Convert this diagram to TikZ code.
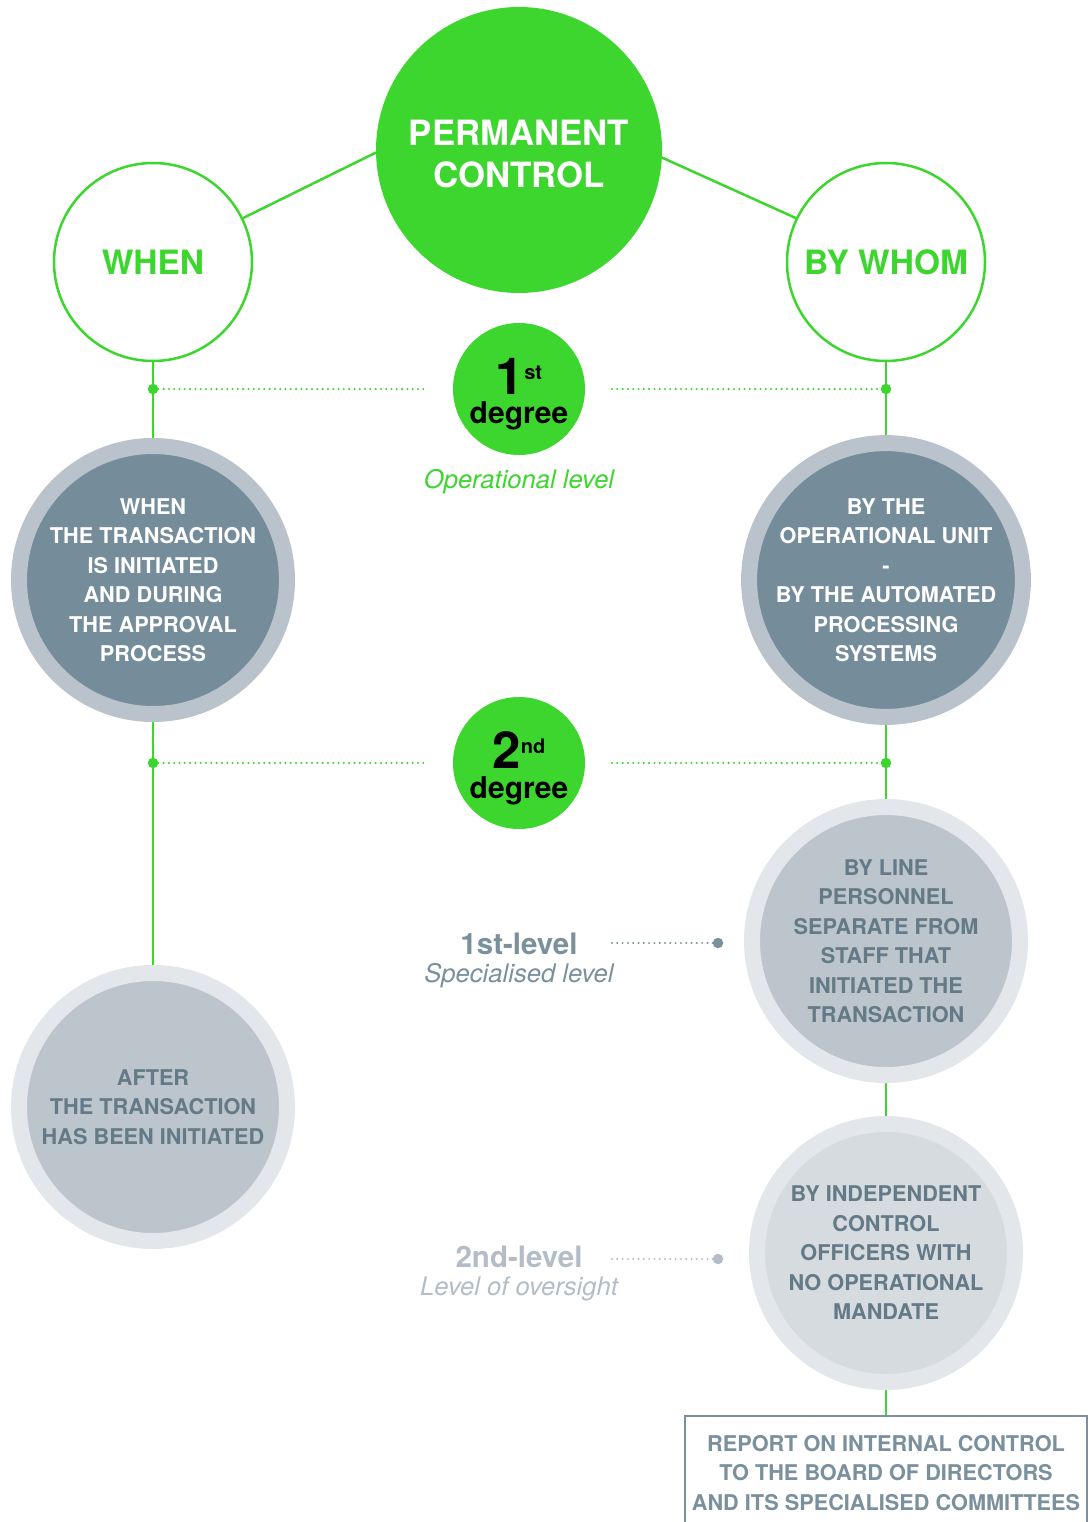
\documentclass[tikz,border=0pt]{standalone}
\usepackage{fontspec}
\setmainfont{TeX Gyre Heros}
\usetikzlibrary{backgrounds}
\definecolor{pgreen}{RGB}{61,214,46}
\definecolor{darkfill}{RGB}{117,140,155}
\definecolor{darkring}{RGB}{186,195,204}
\definecolor{lightfill}{RGB}{188,196,204}
\definecolor{lightring}{RGB}{227,231,235}
\definecolor{palefill}{RGB}{214,219,224}
\definecolor{slatetext}{RGB}{100,122,135}
\definecolor{boxgray}{RGB}{122,144,157}
\definecolor{palegray}{RGB}{180,189,199}
\newcommand{\degreetext}[2]{\begin{tabular}{@{}c@{}}{\fontsize{51}{29}\selectfont #1\raisebox{15pt}{\fontsize{20}{20}\selectfont #2}}\\[-1.3pt]degree\end{tabular}}
\begin{document}
\begin{tikzpicture}[x=1pt,y=-1pt,
  every node/.style={inner sep=0pt, outer sep=0pt},
  body/.style={font=\fontsize{21.7}{29.5}\selectfont\bfseries, align=center},
  ringcirc/.style={circle, line width=16pt, outer sep=8pt, minimum size=268pt, body},
  darkcirc/.style={ringcirc, draw=darkring, fill=darkfill, text=white},
  lightcirc/.style={ringcirc, draw=lightring, fill=lightfill, text=slatetext},
  palecirc/.style={ringcirc, draw=lightring, fill=palefill, text=slatetext, minimum size=258pt},
  headcirc/.style={circle, draw=pgreen, line width=2.5pt, fill=white, minimum size=198pt,
     text=pgreen, font=\fontsize{33.5}{38}\selectfont\bfseries},
  degcirc/.style={circle, fill=pgreen, minimum size=132pt},
  degtxt/.style={font=\fontsize{30}{29}\selectfont\bfseries},
  conn/.style={draw=pgreen, line width=2.5pt},
  gdots/.style={draw=pgreen, line width=2.3pt, line cap=round, dash pattern=on 0pt off 5.3pt},
  sdots/.style={line width=2.2pt, line cap=round, dash pattern=on 0pt off 5.3pt},
  gdot/.style={circle, fill=pgreen, minimum size=10.5pt},
  lvltxt/.style={font=\fontsize{29.5}{32}\selectfont\bfseries},
  subtxt/.style={font=\fontsize{25.6}{30}\selectfont\itshape}
]
\useasboundingbox (0,0) rectangle (1089,1522);
\clip (0,0) rectangle (1089,1522);

% main circles
\node[circle, fill=pgreen, minimum size=286pt] (top) at (519,150) {};
\node[text=white, align=center, font=\fontsize{34.8}{42}\selectfont\bfseries] (topt) at (519,154) {PERMANENT\\CONTROL};
\node[headcirc] (when) at (153,262) {WHEN};
\node[headcirc] (whom) at (886,262) {BY WHOM};

% degree circles
\node[degcirc] (deg1) at (519,389) {};
\node[degtxt] (deg1t) at (519,395.5) {\degreetext{1}{st}};
\node[subtxt, text=pgreen] (oplvl) at (519,482) {Operational level};

\node[degcirc] (deg2) at (519,763) {};
\node[degtxt] (deg2t) at (519,769.5) {\degreetext{2}{nd}};

% ring circles
\node[darkcirc] (darkL) at (153,580) {WHEN\\THE TRANSACTION\\IS INITIATED\\AND DURING\\THE APPROVAL\\PROCESS};
\node[darkcirc] (darkR) at (886,580) {BY THE\\OPERATIONAL UNIT\\-\\BY THE AUTOMATED\\PROCESSING\\SYSTEMS};
\node[lightcirc] (light1) at (886,941) {BY LINE\\PERSONNEL\\SEPARATE FROM\\STAFF THAT\\INITIATED THE\\TRANSACTION};
\node[palecirc] (light2) at (886,1253) {BY INDEPENDENT\\CONTROL\\OFFICERS WITH\\NO OPERATIONAL\\MANDATE};
\node[lightcirc] (lightL) at (153,1107) {AFTER\\THE TRANSACTION\\HAS BEEN INITIATED};

% report box
\node[draw=boxgray, line width=2.5pt, fill=white, minimum width=402pt, minimum height=114pt,
      text=boxgray, body] (report) at (886,1473) {REPORT ON INTERNAL CONTROL\\TO THE BOARD OF DIRECTORS\\AND ITS SPECIALISED COMMITTEES};

% level labels
\node[lvltxt, text=boxgray] (lvl1) at (519,944) {1st-level};
\node[subtxt, text=boxgray] (lvl1s) at (519,976) {Specialised level};
\node[lvltxt, text=palegray] (lvl2) at (519,1257) {2nd-level};
\node[subtxt, text=palegray] (lvl2s) at (519,1289) {Level of oversight};

% junction dots
\node[gdot] (j1L) at (153,389) {};
\node[gdot] (j1R) at (886,389) {};
\node[gdot] (j2L) at (153,763) {};
\node[gdot] (j2R) at (886,763) {};
\coordinate (l1s) at (612,943);
\node[circle, fill=boxgray, minimum size=10.5pt] (l1d) at (718,943) {};
\coordinate (l2s) at (612,1259);
\node[circle, fill=palegray, minimum size=10.5pt] (l2d) at (718,1259) {};

\begin{scope}[on background layer]
\draw[conn] (top.181) -- (when.26);
\draw[conn] (top.357) -- (whom.154);
\draw[conn] (when.south) -- (darkL.north);
\draw[conn] (darkL.south) -- (lightL.north);
\draw[conn] (whom.south) -- (darkR.north);
\draw[conn] (darkR.south) -- (light1.north);
\draw[conn] (light1.south) -- (light2.north);
\draw[conn] (light2.south) -- (report.north);
\draw[gdots] (j1L.center) -- ([xshift=-25pt]deg1.west);
\draw[gdots] ([xshift=27pt]deg1.east) -- (j1R.center);
\draw[gdots] (j2L.center) -- ([xshift=-25pt]deg2.west);
\draw[gdots] ([xshift=27pt]deg2.east) -- (j2R.center);
\draw[sdots, draw=boxgray] (l1s) -- (l1d.center);
\draw[sdots, draw=palegray] (l2s) -- (l2d.center);
\end{scope}
\end{tikzpicture}
\end{document}
